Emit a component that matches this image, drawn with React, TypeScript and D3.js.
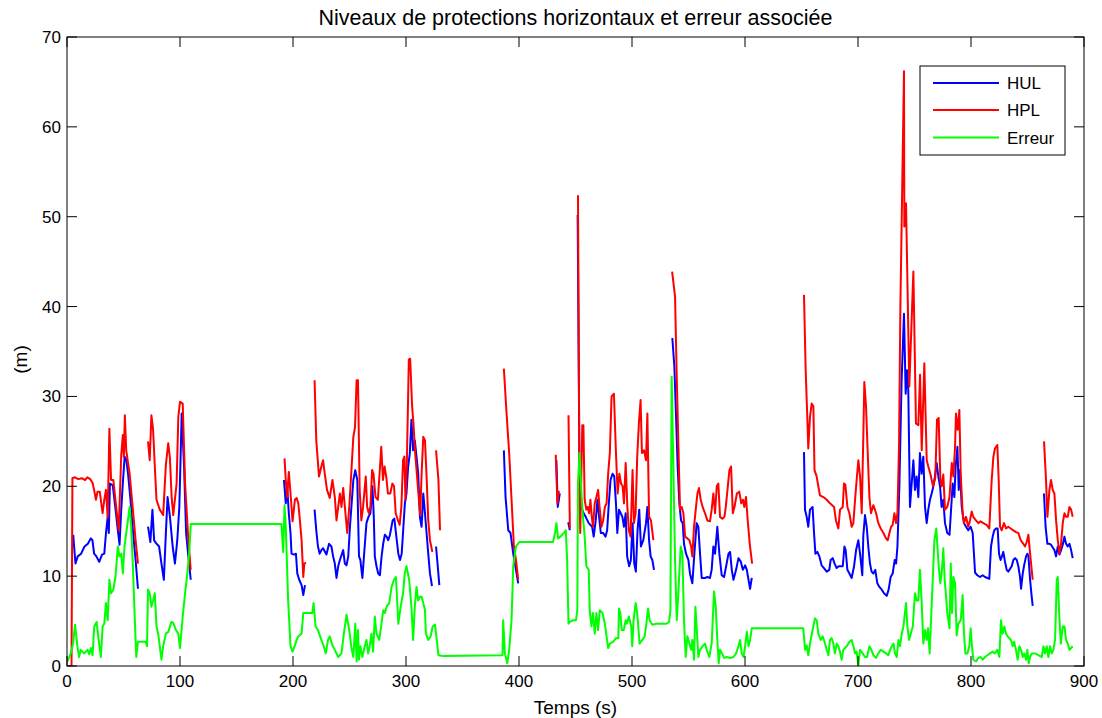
import React from "react";
import * as d3 from "d3";

type Pt = [number, number];

// ---------- data ----------
const X_TICKS = [0, 100, 200, 300, 400, 500, 600, 700, 800, 900];
const Y_TICKS = [0, 10, 20, 30, 40, 50, 60, 70];
const SERIES_NAMES = ["HUL", "HPL", "Erreur"];
const TITLE = "Niveaux de protections horizontaux et erreur associée";
const X_LABEL = "Temps (s)";
const Y_LABEL = "(m)";

const HUL_SEGMENTS: Pt[][] = [
  [[5.5,14.6],[7.5,11.4],[9.5,12.2],[12.5,12.5],[15.5,13.3],[18.5,13.6],[21,14.2],[22.5,14],[24,12.5],[26,12.2],[28.5,11.6],[31,12.4],[33,12.5],[34.5,14.8],[36,16.6],[37,14.8],[38,20.3],[40.5,20.1],[43,17.4],[45,15.1],[46.5,13.5],[48,17.4],[49.5,20.5],[51,23.3],[52.5,22.9],[54,21.4],[56,18.8],[58.3,15.1],[60.7,11.8],[62.8,8.6]],
  [[71.7,15.5],[73.8,13.8],[75.6,17.4],[77.1,14],[78.6,13.7],[81.5,13.3],[83.6,11.4],[85.7,9.6],[87.5,14.8],[89,18.8],[91.1,16.6],[93.5,13.3],[95.5,11.4],[97.6,14],[99.4,17.7],[101.5,28.1],[103.6,22.2],[105.4,14.8],[107.4,12.2],[109.5,9.6]],
  [[192,20.7],[193.6,18.1],[194.8,20],[196.3,17],[197.8,14.8],[198.7,12.5],[200.8,12.4],[202.6,12.5],[203.8,10.3],[205.5,9.6],[207.6,9],[209.1,7.9],[210.6,9]],
  [[219.1,17.4],[220.6,15.1],[222.1,13.3],[223.6,12.5],[225.1,12.9],[226.6,13.1],[229.6,12.4],[231.9,13.6],[234,13.3],[235.5,12.2],[237,11.4],[238.5,9.8],[240,11.1],[241.5,11.8],[244.4,12.9],[245.9,11.4],[247.4,11.2],[248.9,12.2],[250.4,15.5],[251.9,18.1],[253.4,20.7],[255.1,21.8],[256.9,20.7],[258.4,12.2],[259.6,11.8],[261.4,9.8],[263.2,12.9],[265,15.9],[266.8,16.6],[268.5,17],[270.3,20],[271.5,16.6],[272.4,12.2],[273.9,11.1],[275.4,10.3],[276.9,10.1],[278.4,12.2],[279.8,13.6],[281.3,14.6],[282.8,14.4],[284.3,14],[285.8,14.6],[288.2,16.2],[289.7,16.4],[291.1,14.8],[293.2,12.5],[294.7,11.8],[296.2,12.5],[297.7,15.5],[299,18.1],[300.4,19.2],[301.9,22.2],[303.4,23.7],[304.8,27.4],[306.3,24],[307.8,25.1],[309.3,23.3],[310.8,21.4],[312.3,16.6],[313.8,15.5],[315.3,19.2],[316.8,17],[318.2,14.8],[319.7,12.5],[321.2,10.3],[323,8.9]],
  [[326.6,13.3],[328.1,11.1],[329.5,9]],
  [[386.6,24],[388.1,18.8],[390.5,15.1],[392.5,14.8],[394.9,12.5],[397.3,10.7],[399.3,9.2]],
  [[433.1,22.9],[434.3,17.7],[436.1,19.2]],
  [[443.6,16],[445,15.1]],
  [[451.9,50.2],[453.6,20],[455.1,17.7],[457.2,17],[459,16.6],[461.7,15.9],[464.7,15.5],[466.1,14.4],[467.9,16.2],[469.4,18.5],[470.9,16.6],[472.4,14.8],[474.5,14.8],[476.6,14.4],[478,15.1],[479.5,18.1],[481,20.7],[482.8,21.4],[484.3,21.1],[485.8,18.1],[487,14.8],[488.5,17.4],[490,17],[491.5,16.6],[492.9,15.5],[494.4,17],[495.7,12.2],[497.5,11.1],[499,11.8],[500.5,15.9],[502,11.4],[503.4,10.5],[504.9,15.1],[506.4,17.4],[507.9,13.3],[510,14],[512.4,15.9],[513.6,17.7],[515.1,14],[516.5,12.2],[518,11.8],[519.5,10.7]],
  [[535.7,36.5],[537.5,33.3],[539,27.7],[540.4,22.2],[541.9,18.1],[543.4,16.2],[544.9,15.9],[546,13.6],[547.8,12.5],[549.9,11.8],[551.3,10.3],[553.4,9.2],[555.2,12.5],[557.2,15.9],[558.7,15.5],[560.2,12.5],[561.7,9.8],[564.6,9.8],[566.7,9.9],[569,9.8],[570.5,10.7],[572,13.3],[573.5,12.5],[575.5,15.5],[577.3,12.5],[579.4,10.1],[581.5,9.9],[583.3,11.1],[585.4,12.5],[586.8,12.7],[588.3,10.7],[589.8,9.6],[592.1,10.7],[594.2,12],[596.3,11.6],[598.1,10.7],[600.1,11.2],[601.6,10.7],[603.1,9.6],[604.5,8.6],[606,9.8]],
  [[652.2,23.8],[653.1,17.4],[654.6,16.6],[656,15.5],[657.5,17.4],[659.8,17.7],[661.1,14.8],[662.3,12.5],[664,12.7],[665.8,12.2],[667.8,11.2],[669.9,10.9],[672.3,10.5],[674.6,10.7],[675.8,11.8],[677.6,12],[679.3,11.4],[681.1,10.9],[682.9,11.1],[686.5,11.1],[688,13.3],[689.1,12.9],[690.6,10.7],[692.4,10.3],[694.4,9.8],[696.5,11.1],[698.3,12.9],[700.3,14],[701.8,12.5],[703.8,10.1],[704.7,14.5],[706.2,16.8],[707.7,15.5],[709.1,13.3],[710.6,11.4],[712,10.5],[713.6,10.3],[715.3,10.7],[717.1,9.2],[718.9,8.8],[721,8.5],[723,8.1],[725.4,7.8],[727.1,8.5],[728.9,9.9],[730.7,10.3],[732.5,11.8],[733.7,11.4],[734.9,13.3],[736.6,20],[738.6,31.8],[740.7,39.2],[742.2,30.3],[743.4,32.9],[744.5,30.7],[746,17.7],[747.5,20.3],[749,22.9],[750.4,19.6],[751.9,21.1],[753.4,18.8],[754.8,23.7],[756.3,21.4],[757.8,23.3],[759.3,17.7],[760.8,15.9],[762.2,17.4],[763.7,18.5],[765.2,19.2],[766.7,20],[768.1,21.1],[769.6,22.6],[771.1,21.1],[772.6,20],[774,17.7],[775.5,18.5],[777,15.9],[779,14.8],[781,14.6],[782.5,17.7],[783.8,20.3],[785.3,18.8],[786.4,22.2],[788,24.4],[789.1,19.6],[790.3,21.8],[791.8,17.7],[793.8,15.9],[795.6,15.5],[797.6,15.1],[799.7,15.5],[801.5,14.8],[803.6,10.4],[805.6,10.1],[808,9.9],[810.3,10.1],[812.4,9.9],[814.5,9.8],[816.2,9.7],[817.7,13.3],[819.2,14.4],[820.6,15.1],[822.1,15.3],[823.6,15.3],[824.8,12.5],[826.2,11.8],[827.4,12.2],[828.6,12.7],[830.1,11.6],[831.6,10.7],[833,10.5],[836,11.1],[837.5,11.8],[839,12],[840.5,11.8],[841.9,11.1],[843.4,9.9],[844.3,8.6],[845.8,10.3],[847,11.2],[848.7,12.2],[849.9,12.5],[850.8,12.2],[852.3,9.6],[853.4,8.1],[854.6,6.7]],
  [[864.6,19.2],[866,15.5],[867.6,13.6],[869.4,13.6],[870.8,13.5],[873.8,12.9],[875.3,12.2],[876.8,13.3],[878.3,12.4],[879.7,12.9],[881.2,13.5],[882.7,14.4],[884.1,13.6],[885.6,13.3],[887.1,13.6],[888.6,12.9],[890,12]],
];

const HPL_SEGMENTS: Pt[][] = [
  [[1,0],[4,0],[4.8,20.9],[7,21],[10,20.8],[13,20.9],[16,20.7],[18,21],[20.5,20.8],[22.6,20.4],[24,19.6],[25.6,18.5],[27,19.4],[29,19.4],[31.5,17],[33,18.5],[34.5,19.6],[36,16.5],[37.5,26.4],[39,20.7],[41,20.7],[43.5,17.7],[45.8,15.1],[48,23.5],[49.4,25.7],[50.3,23.3],[51.2,27.9],[52.4,24],[55.4,21.4],[58.3,17.4],[60.7,14],[62.8,11.4]],
  [[71.7,25],[73.2,22.9],[74.7,27.9],[76.2,26.3],[77.7,22.2],[79.2,18.5],[82.1,17.4],[85.1,16.8],[87.5,22.4],[89.6,24.8],[91.1,23.1],[92.6,18.8],[94,16.8],[97,20.3],[98.5,27.7],[100,29.4],[102.4,29.2],[104.5,20.3],[107.4,14],[109.5,10.7]],
  [[192.5,23.1],[193.6,20.7],[194.8,18.8],[196.3,21.6],[197.8,19.2],[199.6,16.1],[201.7,18.5],[203.2,18.7],[204.7,18.1],[206.1,16.2],[207.6,14],[209.1,9.9],[210,11.4],[211.5,11.5]],
  [[219.1,31.8],[220.6,25.1],[223,21.1],[225.1,22.2],[226.6,22.9],[228.1,21.4],[230.1,19.6],[232.5,18.7],[234.9,20.7],[237,18.8],[238.5,16.2],[240,17.7],[241.5,19.2],[242.9,17.7],[244.4,19.8],[245.9,17.7],[248,14.8],[249.8,17.7],[251.9,22.2],[253.4,25.5],[254.9,26.6],[256.3,31.8],[257.5,31.8],[259,19.6],[260.5,16.2],[262,17.7],[264.4,21.1],[265.6,17.7],[267.1,17],[268.5,17.7],[270,21.8],[271.2,21.4],[273,18.8],[275.1,18.5],[276.6,21.4],[278.1,24.4],[279.6,20.7],[281,22.2],[282.5,21.1],[284,19.2],[286.1,19.2],[287.9,20.3],[289.4,20],[290.9,17],[292.9,16.2],[294.4,15.7],[295.9,17.7],[297.4,22.9],[298.6,23.3],[299.5,18.5],[300.7,22.2],[302.5,34.1],[303.7,34.2],[305.4,28.9],[306.6,27],[308.1,23.7],[309.6,21.4],[311.4,18.5],[312.6,16.8],[313.8,21.4],[315.3,25.5],[316.8,25.1],[318.2,21.1],[319.7,16.2],[321.2,14],[323.3,12.7]],
  [[326.6,24],[328.7,20.7],[330.1,15.1]],
  [[386.6,33.1],[389,28.1],[391.3,23.7],[393.4,18.5],[395.5,13.3],[397.3,11.8],[399.3,9.6]],
  [[432.5,23.5],[434,18.1],[435.2,19.4],[436.1,19.4]],
  [[443.8,27.9],[445,15.3]],
  [[452.2,52.4],[453.5,20],[454.2,14.8],[456,26.8],[457,26.8],[458.1,18.5],[459.6,17.4],[460.8,17.7],[462,17],[463.2,18.5],[464.4,16.6],[465.5,15.5],[467,18.1],[468.5,18.8],[470,19.6],[471.5,17.4],[473,15.5],[474.5,16.2],[476,17.7],[477.5,18.1],[478.9,21.4],[480.4,23.7],[481.9,30],[484,30.3],[485.8,23.7],[487.3,19.2],[488.8,21.4],[490.3,20.3],[491.7,20],[492.9,18.1],[494.4,22.6],[495.9,17.7],[497.2,15.1],[498.7,14.4],[500.5,21.8],[501.7,15.9],[503.2,17],[504.6,23.3],[506.1,27],[507.6,29.6],[508.8,23.7],[510.6,24],[512.4,22.9],[513.6,28.1],[515.1,16.6],[516.8,16.2],[518.9,14]],
  [[535.5,43.9],[538.1,41.1],[539.6,32.2],[541,24.8],[542.5,17.4],[544,17.7],[545.5,17],[547,14.4],[549,14.2],[550.8,14],[552.3,13.3],[553.4,12.2],[554.9,15.5],[556.4,17.4],[557.9,19.2],[559.3,19.8],[560.8,18.5],[562.5,17.7],[564.6,17],[566.7,16.2],[569,16.1],[570.5,17.4],[572,19.2],[573.5,17],[575,20],[576.4,20.3],[577.9,16.6],[580,16.4],[581.8,16.6],[583,17.7],[584.8,20],[586.2,21.8],[587.7,22.2],[589.2,17],[590.7,17.7],[592.8,19.2],[594.9,19.4],[596.7,18.1],[598.2,18.5],[599.4,17.7],[600.9,18.8],[602.4,16.2],[604.2,13.6],[606.3,11.4]],
  [[652.2,41.3],[653.7,32.9],[655.2,27.4],[656,24.2],[657.5,27.7],[659,29.2],[660.5,28.9],[661.5,21.8],[663.4,21.1],[664.6,20.2],[666.3,19],[669.3,18.8],[672.3,18.5],[675.2,18.1],[678.8,17.7],[680.5,16.2],[682.6,15.3],[684.1,17.4],[686.5,17.7],[687.6,20.3],[688.8,20.2],[690.6,17.7],[692.4,17],[694.4,15.5],[695.9,15.9],[697.4,18.5],[698.8,20.7],[700.3,22.9],[701.8,21.1],[703.3,17],[704.7,25.5],[705.6,31.6],[707.1,28.9],[708.6,23.7],[710.1,18.8],[711.5,17],[713.6,17.9],[716,17],[718,15.9],[720.1,15.3],[722.5,14.8],[724.8,14.2],[726.3,14],[727.8,14.8],[729.3,15.5],[730.7,15.7],[732.2,17],[733.7,15.9],[734.9,17],[736.3,24.4],[737.5,40],[740.7,66.2],[741,48.9],[742.5,51.5],[745.4,31.1],[749,43.9],[751.3,27],[753.4,26.8],[754.9,32.4],[756.4,24],[758.7,33.7],[760.8,22.9],[762.2,22.2],[764,21.4],[766.4,20],[768.4,20.9],[769.9,27.4],[771.4,27.6],[772.9,20.7],[774,20],[775.5,21.3],[777,17.4],[779,17.7],[781,18.8],[783,22.6],[784.4,21.1],[785.9,24.4],[786.7,28.1],[788.2,26.3],[789.7,28.5],[790.9,21.4],[792.6,17],[793.8,15.9],[795.6,16.6],[797.6,15.5],[799.1,16.2],[800.6,17.2],[802,16.6],[804.4,16.2],[806.5,15.9],[808.5,16.1],[810.9,15.9],[813.8,15.7],[816.2,15.3],[818.3,20.7],[819.8,23.3],[821.2,24.2],[823.3,24.6],[824.5,20.7],[825.7,15.5],[827.1,15.1],[829.2,15.9],[831,15.3],[833,15.5],[835.1,15.3],[837.5,15.1],[839.8,14.9],[841.9,14.8],[844,14],[846.3,13.6],[847.8,13.3],[849.3,13.8],[850.8,14.6],[852.3,12.5],[853.7,10.7],[854.6,9.6]],
  [[864.6,25],[866.4,20.7],[867.6,16.6],[869.4,19.6],[870.8,20.7],[872.3,19.6],[873.8,19.2],[875.3,16.2],[876.8,14],[878.3,12.5],[879.7,13.6],[881.2,15.9],[882.7,17],[884.1,16.6],[885.6,16.6],[887.1,17.7],[888.6,17.4],[890,16.6]],
];

const ERREUR_POINTS: Pt[] = [
  [0.5,0.5],[3.3,1.4],[5.4,2.5],[7.1,4.6],[9.2,2.2],[10.7,1],[12.2,1.8],[15.2,1.4],[18.2,1.8],[19.7,1.3],[21.1,2],[22.6,1.2],[24.1,4.4],[26.2,4.9],[28,2.9],[30,1],[31.5,4.4],[33,4.7],[34.5,7],[36,5.1],[37.5,9.6],[39,8.1],[41,8.5],[42.9,9.9],[45,13.3],[46.4,12.2],[48,12.5],[49.4,10.3],[50.9,13.3],[52.4,14.8],[53.9,16.2],[55.4,17.7],[56.8,15.5],[58.3,11.1],[59.8,5.9],[61.3,1],[62.8,2.7],[65.8,2.7],[69.6,2.7],[70.8,2.2],[71.7,8.5],[73.2,8.1],[74.7,6.6],[76.2,7.3],[77.7,8.1],[79.2,4.4],[80.7,3.6],[82.1,2.2],[83.6,0.7],[85.1,2.2],[87.5,3.6],[89.6,3.8],[91.1,4.4],[92.6,4.9],[94,4.8],[96.4,4],[98.5,3.6],[100,2],[102.4,5.5],[104.5,8.1],[106.5,10.3],[108.3,12.9],[109.5,15.8],
  [189.8,15.8],[191.3,12.7],[192.5,17.9],[193.6,15.5],[195.7,7.3],[197.8,2.2],[199.6,1.6],[201.7,2.3],[203.8,3.1],[205.5,3.4],[207.6,3.6],[209.1,5.9],[210.6,5.9],[214.8,5.9],[217.1,5.9],[218.2,7],[220,4.4],[222.1,4],[225.1,2.9],[227.2,2.2],[229,1.4],[231,2.9],[232.5,3.3],[234.9,2.3],[237,1.8],[240,1],[242.9,1.4],[245,3.6],[247.4,5.7],[249.8,4],[251.5,2.2],[253.4,1],[255.1,4.7],[256.3,0.5],[257.5,4],[258.4,0.7],[259.6,2.2],[261.4,1],[263.5,2.2],[265,2.9],[266.5,1.4],[267.9,2.2],[269.4,3.6],[270.9,1.6],[272.4,5.5],[273.9,3.6],[276.3,2.9],[278.3,4.7],[279.8,6.2],[281.3,5.9],[282.8,6.6],[285.2,7],[287.2,8.8],[289.3,9.6],[291.1,9.9],[293.2,4.7],[295.3,6.6],[297.4,8.1],[298.9,10.3],[300.4,11.1],[302.8,9.6],[304.8,6.6],[306.3,2.9],[307.8,6.6],[309.3,8.8],[310.8,7.3],[312.3,7.7],[313.8,7.7],[315.3,7],[316.8,6.2],[317.6,3.6],[319.7,2.9],[321.8,3.3],[323.6,4.4],[325.7,4.6],[327.2,2.9],[328.7,1.2],[333.1,1.1],
  [385.4,1.2],[386,5.1],[387.5,1.4],[389.6,0.3],[391.3,1.8],[393.4,5.1],[394.9,11.1],[397.3,13.3],[400.3,13.8],[430.1,13.8],[431.9,14.8],[433.1,15.9],[434.6,14.2],[436.7,14.4],[439.7,14.8],[441.4,15.1],[442.6,11.8],[443.8,4.7],[445,4.9],[448,5.1],[450.4,5.1],[451.6,6.2],[452.2,20.3],[453.6,23.7],[455.1,19.6],[456.6,16.6],[458.1,14.4],[459.6,11.1],[461.7,10.7],[462.6,6.2],[464.1,4.4],[465.5,5.9],[467,3.6],[468.5,5.9],[470,4],[471.5,6.2],[473.9,5.9],[476,4.7],[477.5,3.3],[478.9,2],[480.4,2.5],[483.4,2.7],[485.8,3.1],[487.9,3.1],[488.5,6.4],[489.7,5.9],[490.9,4],[492.7,4],[494.4,5.1],[495.4,4.7],[497.2,5.5],[499.3,4.4],[500.2,2.2],[501.4,5.1],[503.2,7],[504.6,5.9],[506.7,2.5],[509.1,2.9],[511.2,3.3],[512.7,4.7],[514.2,6.4],[515.6,5.1],[518,4.6],[521.6,4.7],[530.4,4.7],[532.8,4.9],[534,6.2],[535.1,32.2],
  [536.6,22.2],[538.1,11.8],[539.6,5.1],[541,8.1],[543.1,13.3],[544.6,12.5],[546,5.1],[547.5,1],[549,3.3],[550.8,2.5],[552.3,1.8],[553.4,2.9],[554.9,0.7],[556.1,6.6],[557.2,4.4],[558.7,1],[560.2,1.8],[562.5,2.2],[564.6,2.5],[566.1,1.8],[568.4,1],[570.5,2.5],[572.6,8.3],[574.1,6.6],[575.5,2.9],[576.7,0.3],[577.9,1.8],[579.7,1.4],[581.5,0.9],[583.8,1],[586.8,0.9],[589.8,1],[592.1,1.4],[594.2,2.2],[595.7,2.9],[597.1,1.4],[598.7,1],[600.1,2.2],[601.6,3.8],[603.1,2.2],[604.5,2.9],[606,4.2],[651.6,4.2],
  [653.1,1.8],[654.6,2.3],[656,1.2],[658.1,2.9],[659.8,4],[661.9,5.3],[663.4,5.1],[664.9,3.6],[667,2.9],[668.8,3.3],[670.8,2.5],[672.3,1.8],[673.8,1.2],[675.2,2.9],[676.7,3.1],[678.2,2.5],[679.6,1.4],[681.1,2.5],[682.6,2.2],[684.1,1.6],[685.5,0.7],[687,1.8],[688.5,2],[690.6,2.3],[692.4,2.7],[694.4,2.9],[695.9,2.2],[697.4,1.4],[698.8,1.6],[700.3,0.1],[701.8,1.8],[704.1,1.4],[706.2,1],[708,1],[710.1,2.2],[711.8,1.8],[713.6,1.2],[716,0.9],[718,1.4],[720.1,1.8],[722.5,1.6],[724.8,1.4],[726.9,1.2],[728.4,1.8],[729.9,2.2],[731.4,2.5],[732.8,1.4],[734.3,1],[735.8,2.9],[737.2,2.2],[738.7,3.6],[740.2,4.4],[742.5,7],[743.7,4.4],[745.2,2.9],[746.7,3.6],[748.5,4.4],[750.4,8.1],[751.9,7.3],[753.4,7.3],[754.8,10.7],[756.3,7.3],[757.8,2.5],[759.3,4],[760.8,2.9],[762,4.2],[763.4,1.4],[765.5,7.7],[767.6,14],[769.3,15.3],[771.4,11.1],[772.9,9.2],[774.3,10.7],[775.5,13.1],[776.7,9.6],[777.9,7.8],[779,5.9],[781,4.2],[782.1,11.4],[783.2,5.9],[784.4,9.9],[785.9,9.2],[787.3,3.4],[788.8,4.7],[790.9,5.1],[792.6,7.9],[793.8,3.6],[795,1.4],[796.8,1.4],[798.5,2.2],[799.7,4.2],[800.9,2.2],[802,0.7],[804.4,0.5],[806.5,0.9],[808.5,1],[810.3,0.7],[812.4,1],[814.5,1.2],[816.8,1.4],[819.2,1.6],[821.2,1.4],[823.3,1.8],[825.1,1],[826.5,5.1],[828,3.6],[829.5,4.4],[831,3.6],[832.4,3.3],[835.4,2.9],[836.9,2.2],[838.1,2.7],[839.8,1.8],[841.3,0.7],[842.8,2.2],[844.3,1.8],[845.8,1],[847.2,1.4],[848.7,0.7],[849.9,1.8],[851.1,0.3],[852.3,1],[853.7,1.4],[856.7,1.4],[859.6,1.2],[862.6,1],[864.1,2.2],[865.5,1.4],[867,2.2],[868.5,1],[870,2.2],[871.5,1.4],[872.9,1.8],[874.4,2.9],[875.9,9.6],[876.8,9.9],[878,5.9],[879.5,2.5],[881.2,4.4],[882.7,4.4],[884.1,2.9],[885.6,2.5],[887.1,1.8],[888.6,2],[890,2.2],
];

// ---------- layout ----------
const W = 1102;
const H = 718;
const M = { left: 67, right: 1084, top: 37, bottom: 666 };
const FONT = "'Liberation Sans', Arial, Helvetica, sans-serif";
const COLORS = ["#0000ff", "#ff0000", "#00ff00"];
const TICK = 10;

export default function App() {
  const x = d3.scaleLinear().domain([0, 900]).range([M.left, M.right]);
  const y = d3.scaleLinear().domain([0, 70]).range([M.bottom, M.top]);
  const line = d3
    .line<Pt>()
    .x((d) => x(d[0]))
    .y((d) => y(d[1]));

  const seriesPaths: { color: string; d: string }[] = [];
  HUL_SEGMENTS.forEach((s) => seriesPaths.push({ color: COLORS[0], d: line(s) || "" }));
  HPL_SEGMENTS.forEach((s) => seriesPaths.push({ color: COLORS[1], d: line(s) || "" }));
  seriesPaths.push({ color: COLORS[2], d: line(ERREUR_POINTS) || "" });

  const legend = { x: 920, y: 66, w: 145, h: 89 };
  const legendRows = [83, 110, 137.5];

  return (
    <svg
      width={W}
      height={H}
      style={{ position: "absolute", left: 0, top: 0, background: "#fff" }}
      fontFamily={FONT}
    >
      <rect x={0} y={0} width={W} height={H} fill="#fff" />
      <defs>
        <clipPath id="plotClip">
          <rect x={M.left} y={M.top} width={M.right - M.left} height={M.bottom - M.top} />
        </clipPath>
      </defs>
      <g clipPath="url(#plotClip)">
        {seriesPaths.map((p, i) => (
          <path key={i} d={p.d} fill="none" stroke={p.color} strokeWidth={2} strokeLinejoin="round" />
        ))}
      </g>
      {/* axes box */}
      <rect
        x={M.left}
        y={M.top}
        width={M.right - M.left}
        height={M.bottom - M.top}
        fill="none"
        stroke="#000"
        strokeWidth={1}
      />
      {X_TICKS.map((t) => (
        <g key={"xt" + t}>
          <line x1={x(t)} x2={x(t)} y1={M.bottom} y2={M.bottom - TICK} stroke="#000" />
          <line x1={x(t)} x2={x(t)} y1={M.top} y2={M.top + TICK} stroke="#000" />
          <text x={x(t)} y={687} textAnchor="middle" fontSize={17} fill="#000">
            {t}
          </text>
        </g>
      ))}
      {Y_TICKS.map((t) => (
        <g key={"yt" + t}>
          <line x1={M.left} x2={M.left + TICK} y1={y(t)} y2={y(t)} stroke="#000" />
          <line x1={M.right} x2={M.right - TICK} y1={y(t)} y2={y(t)} stroke="#000" />
          <text x={61} y={y(t) + 6} textAnchor="end" fontSize={17} fill="#000">
            {t}
          </text>
        </g>
      ))}
      <text x={(M.left + M.right) / 2} y={25} textAnchor="middle" fontSize={21.5} fill="#000">
        {TITLE}
      </text>
      <text x={(M.left + M.right) / 2} y={714} textAnchor="middle" fontSize={19} fill="#000">
        {X_LABEL}
      </text>
      <text
        transform={`translate(27,${(M.top + M.bottom) / 2 + 8}) rotate(-90)`}
        textAnchor="middle"
        fontSize={19}
        fill="#000"
      >
        {Y_LABEL}
      </text>
      {/* legend */}
      <rect x={legend.x} y={legend.y} width={legend.w} height={legend.h} fill="#fff" stroke="#000" strokeWidth={1} />
      {SERIES_NAMES.map((n, i) => (
        <g key={n}>
          <line x1={933} x2={999} y1={legendRows[i]} y2={legendRows[i]} stroke={COLORS[i]} strokeWidth={2} />
          <text x={1007} y={legendRows[i] + 6} fontSize={17} fill="#000">
            {n}
          </text>
        </g>
      ))}
    </svg>
  );
}
